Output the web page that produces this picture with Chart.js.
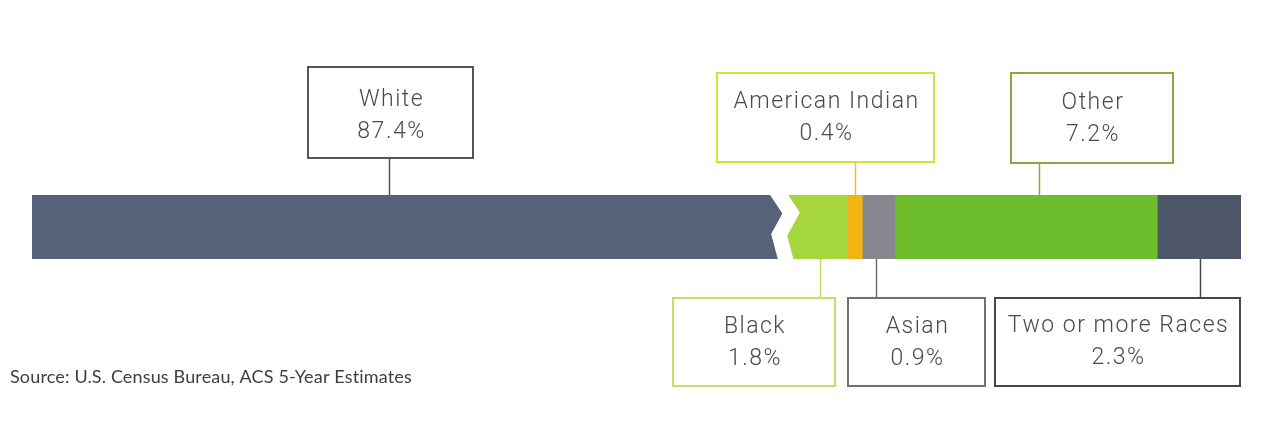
<!DOCTYPE html>
<html>
<head>
<meta charset="utf-8">
<script src="https://cdn.jsdelivr.net/npm/chart.js@4.4.1/dist/chart.umd.min.js"></script>
<style>
  html, body { margin: 0; padding: 0; background: #fff; }
  #wrap { width: 1266px; height: 427px; position: relative; }
</style>
</head>
<body>
<div id="wrap"><canvas id="myChart"></canvas></div>
<script>
// share of population by race (%)
var categories = ['White', 'Black', 'American Indian', 'Asian', 'Other', 'Two or more Races'];
var shares = [87.4, 1.8, 0.4, 0.9, 7.2, 2.3];
// the White bar is cut (axis break) at this value
var whiteShown = 20.6;

var barColors = ['#56627a', '#a5d63e', '#f2b512', '#88878f', '#6ebd2c', '#4d5669'];
var boxColors = ['#555555', '#bfe266', '#d7df3c', '#707070', '#86a83c', '#474747'];
var leadColors = ['#555555', '#b9e060', '#e9c22a', '#707070', '#86a83c', '#474747'];

// label boxes: x, y, w, h, a nudge for the leader line and for the text
var boxes = [
    { x: 308, y: 67, w: 165, h: 91, dx: -18, dy: 3 },
    { x: 673, y: 298, w: 162, h: 88, dx: 5, dy: 0 },
    { x: 717, y: 73, w: 217, h: 89, dx: 0, dy: 0 },
    { x: 848, y: 298, w: 137, h: 88, dx: -3, dy: 0 },
    { x: 1011, y: 73, w: 162, h: 90, dx: 13, dy: 0 },
    { x: 995, y: 298, w: 245, h: 88, dx: 1, dy: -1 }
];

var datasets = categories.map(function (c, i) {
    return {
        label: c,
        data: [i === 0 ? Math.min(shares[0], whiteShown) : shares[i]],
        backgroundColor: barColors[i],
        borderWidth: 0,
        barPercentage: 1,
        categoryPercentage: 1
    };
});

var total = datasets.reduce(function (s, d) { return s + d.data[0]; }, 0);

var annotate = {
    id: 'annotate',
    afterDatasetsDraw: function (chart) {
        var ctx = chart.ctx;
        var xs = chart.scales.x;
        var top = chart.chartArea.top, bottom = chart.chartArea.bottom;

        // break mark between White and Black
        var bx = xs.getPixelForValue(datasets[0].data[0]);
        ctx.save();
        ctx.strokeStyle = '#ffffff';
        ctx.lineWidth = 15;
        ctx.lineJoin = 'miter';
        ctx.beginPath();
        ctx.moveTo(bx - 7, top - 6);
        ctx.lineTo(bx + 9, top + 18);
        ctx.lineTo(bx - 3, top + 40);
        ctx.lineTo(bx + 5, bottom + 6);
        ctx.stroke();
        ctx.restore();

        var cum = 0;
        datasets.forEach(function (d, i) {
            var v = d.data[0];
            var mid = xs.getPixelForValue(cum + v / 2) + boxes[i].dx;
            cum += v;
            var b = boxes[i];
            var above = b.y < top;

            ctx.save();
            ctx.strokeStyle = leadColors[i];
            ctx.lineWidth = 1.5;
            ctx.beginPath();
            ctx.moveTo(Math.round(mid) + 0.5, above ? b.y + b.h : bottom);
            ctx.lineTo(Math.round(mid) + 0.5, above ? top : b.y);
            ctx.stroke();

            ctx.fillStyle = '#ffffff';
            ctx.fillRect(b.x, b.y, b.w, b.h);
            ctx.strokeStyle = boxColors[i];
            ctx.lineWidth = 2;
            ctx.strokeRect(b.x, b.y, b.w, b.h);

            ctx.fillStyle = '#4a4a4a';
            ctx.font = '300 23px Roboto';
            ctx.letterSpacing = '1.5px';
            ctx.textAlign = 'center';
            ctx.textBaseline = 'middle';
            var cx = b.x + b.w / 2 + 1;
            var cy = b.y + b.h / 2 + b.dy;
            ctx.fillText(categories[i], cx, cy - 15);
            ctx.fillText(shares[i].toFixed(1) + '%', cx, cy + 17);
            ctx.restore();
        });

        ctx.save();
        ctx.fillStyle = '#3e3e3e';
        ctx.font = '18px Lato';
        ctx.letterSpacing = '0.15px';
        ctx.textAlign = 'left';
        ctx.textBaseline = 'middle';
        ctx.fillText('Source: U.S. Census Bureau, ACS 5-Year Estimates', 10, 377);
        ctx.restore();
    }
};

var ctx = document.getElementById('myChart').getContext('2d');
var myChart = new Chart(ctx, {
    type: 'bar',
    data: { labels: [''], datasets: datasets },
    options: {
        indexAxis: 'y',
        responsive: true,
        maintainAspectRatio: false,
        animation: false,
        layout: { padding: { left: 32, right: 25, top: 195, bottom: 168 } },
        plugins: { legend: { display: false }, tooltip: { enabled: false } },
        scales: {
            x: { stacked: true, min: 0, max: total, display: false },
            y: { stacked: true, display: false }
        }
    },
    plugins: [annotate]
});
</script>
</body>
</html>
